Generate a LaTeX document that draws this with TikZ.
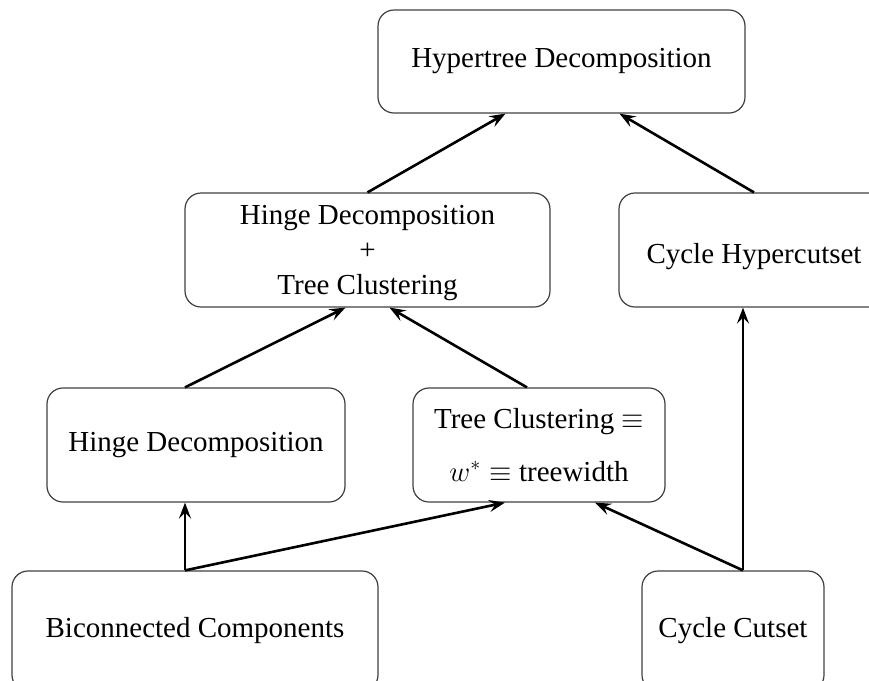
\documentclass[tikz,border=0pt]{standalone}
\usepackage{fontspec}
\setmainfont{Liberation Serif}
\usetikzlibrary{arrows.meta}
\tikzset{
  box/.style={draw=black!75, line width=0.6pt, rounded corners=8pt, align=center, inner sep=0pt,
    font=\fontsize{14.5}{17.5}\selectfont},
  link/.style={line width=1.3pt, -{Stealth[length=8pt,width=6pt,inset=3pt]}}
}
\begin{document}
\begin{tikzpicture}[x=0.5pt, y=-0.5pt]
\clip (0,0) rectangle (869,681);

% top row
\node[box, minimum width=183.5pt, minimum height=51.5pt] (ht) at (561.5, 61.5) {Hypertree Decomposition};

% second row
\node[box, minimum width=182.5pt, minimum height=57pt, text depth=-1pt] (hct) at (367.5, 250) {Hinge Decomposition\\+\\Tree Clustering};
\node[box, minimum width=135pt, minimum height=57pt, text height=17pt, text depth=4pt] (ch) at (754, 250) {Cycle Hypercutset};

% third row
\node[box, minimum width=149pt, minimum height=57pt] (hd) at (196, 445) {Hinge Decomposition};
\node[box, minimum width=126pt, minimum height=57pt] (tc) at (539, 445) {Tree Clustering $\equiv$\\[9pt]$w^*\equiv$ treewidth};

% bottom row
\node[box, minimum width=183pt, minimum height=60pt] (bc) at (195, 631) {Biconnected Components};
\node[box, minimum width=91pt, minimum height=60pt] (cc) at (733, 631) {Cycle Cutset};

\draw[link] (hct.north) -- ([xshift=-28pt]ht.south);
\draw[link] (ch.north) -- ([xshift=29pt]ht.south);
\draw[link] ([xshift=-5.5pt]hd.north) -- ([xshift=-11pt]hct.south);
\draw[link] ([xshift=-6pt]tc.north) -- ([xshift=11pt]hct.south);
\draw[link] ([xshift=-5pt]bc.north) -- ([xshift=-5.5pt]hd.south);
\draw[link] ([xshift=-5pt]bc.north) -- ([xshift=-17pt]tc.south);
\draw[link] ([xshift=5pt]cc.north) -- ([xshift=28pt]tc.south);
\draw[link] ([xshift=5pt]cc.north) -- ([xshift=-5.5pt]ch.south);

\end{tikzpicture}
\end{document}
